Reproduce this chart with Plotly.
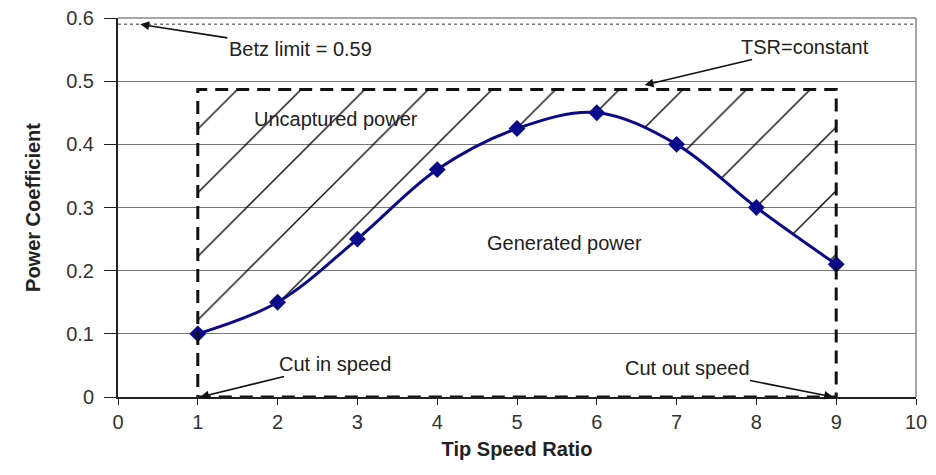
import plotly.graph_objects as go

# Данные кривой Cp(TSR)
tsr = [1, 2, 3, 4, 5, 6, 7, 8, 9]
cp = [0.10, 0.15, 0.25, 0.36, 0.425, 0.45, 0.40, 0.30, 0.21]

betz_limit = 0.59
rect_x = [1, 9]
rect_top = 0.487

x_ticks = list(range(0, 11))
y_ticks = [0, 0.1, 0.2, 0.3, 0.4, 0.5, 0.6]
y_labels = ["0", "0.1", "0.2", "0.3", "0.4", "0.5", "0.6"]

FONT = "Liberation Sans, Arial, sans-serif"

fig = go.Figure()

# верхняя граница области "Uncaptured power" (невидимая, для заливки)
fig.add_trace(go.Scatter(
    x=rect_x, y=[rect_top, rect_top], mode="lines",
    line=dict(width=0, color="rgba(0,0,0,0)"),
    hoverinfo="skip", showlegend=False,
))

# кривая со штриховкой до верхней границы
fig.add_trace(go.Scatter(
    x=tsr, y=cp, mode="lines+markers",
    line=dict(color="#0a0a8a", width=3, shape="spline", smoothing=1.0),
    marker=dict(symbol="diamond", size=13, color="#0a0a8a"),
    fill="tonexty", fillcolor="rgba(0,0,0,0)",
    fillpattern=dict(shape="/", size=45, solidity=0.03, fgopacity=1,
                     fgcolor="#000", bgcolor="rgba(0,0,0,0)"),
    showlegend=False,
))

# предел Бетца
fig.add_shape(type="line", xref="paper", x0=0, x1=1, y0=betz_limit, y1=betz_limit,
              line=dict(color="#777", width=1.5, dash="dot"))

# прямоугольник TSR=constant
fig.add_shape(type="rect", x0=rect_x[0], x1=rect_x[1], y0=0, y1=rect_top,
              line=dict(color="#111", width=3, dash="13px,8px"))

ann_font = dict(family=FONT, size=20, color="#222")
arrow = dict(showarrow=True, arrowhead=2, arrowsize=1.1, arrowwidth=1.6,
             arrowcolor="#111", axref="pixel", ayref="pixel")

fig.add_annotation(x=0.28, y=betz_limit, text="Betz limit = 0.59", ax=160, ay=25,
                   xanchor="center", font=ann_font, **arrow)
fig.add_annotation(x=6.6, y=0.494, text="TSR=constant", ax=160, ay=-38,
                   xanchor="center", font=ann_font, **arrow)
fig.add_annotation(x=1.03, y=0, text="Cut in speed", ax=135, ay=-33,
                   xanchor="center", font=ann_font, **arrow)
fig.add_annotation(x=8.96, y=0, text="Cut out speed", ax=-146, ay=-29,
                   xanchor="center", font=ann_font, **arrow)
fig.add_annotation(x=2.73, y=0.44, text="Uncaptured power", showarrow=False,
                   font=ann_font)
fig.add_annotation(x=5.6, y=0.244, text="Generated power", showarrow=False,
                   font=ann_font)

# страница имеет отступ 8px, поэтому фигура чуть меньше окна
fig.update_layout(
    width=928, height=467,
    margin=dict(l=110, r=20, t=10, b=78),
    paper_bgcolor="white", plot_bgcolor="white",
    font=dict(family=FONT, size=20, color="#333"),
    showlegend=False,
    xaxis=dict(
        range=[0, 10], tickvals=x_ticks, showgrid=False, zeroline=False,
        showline=True, linecolor="#222", linewidth=2,
        ticks="outside", ticklen=6, tickcolor="#222", automargin=False,
        ticklabeloverflow="allow",
        title=dict(text="<b>Tip Speed Ratio</b>", font=dict(size=20, color="#222"),
                   standoff=10),
    ),
    yaxis=dict(
        range=[0, 0.6], tickvals=y_ticks, ticktext=y_labels,
        showgrid=True, gridcolor="#777", gridwidth=1, zeroline=False,
        showline=True, linecolor="#222", linewidth=2,
        ticks="outside", ticklen=12, tickcolor="#222", automargin=False,
        ticklabelstandoff=6, ticklabeloverflow="allow",
        title=dict(text="<b>Power Coefficient</b>", font=dict(size=20, color="#222"),
                   standoff=20),
    ),
)

# рамка сверху и справа
fig.add_shape(type="line", xref="paper", yref="paper", x0=1, x1=1, y0=0, y1=1,
              line=dict(color="#888", width=1.5))
fig.add_shape(type="line", xref="paper", yref="paper", x0=0, x1=1, y0=1, y1=1,
              line=dict(color="#888", width=1.5))

fig.write_html("out.html")
